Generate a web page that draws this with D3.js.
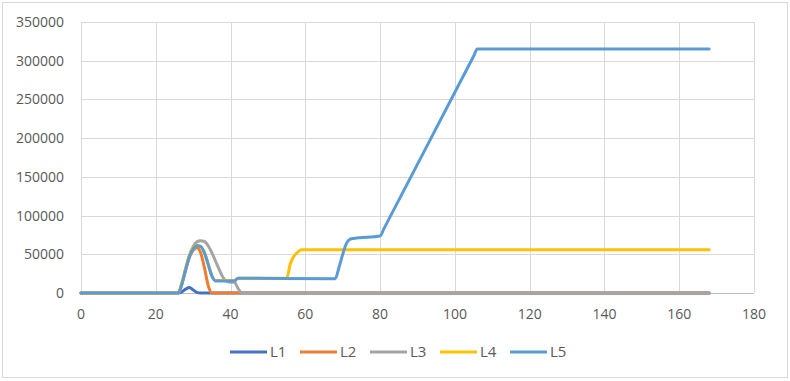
<!DOCTYPE html>
<html>
<head>
<meta charset="utf-8">
<script src="https://cdn.jsdelivr.net/npm/d3@7"></script>
<style>
  body { margin: 0; background: #fff; }
  text { font-family: "Open Sans", "DejaVu Sans", sans-serif; fill: #595959; }
</style>
</head>
<body>
<div id="vis"></div>
<script>
// frame constants
const FRAME_WIDTH = 790;
const FRAME_HEIGHT = 381;
const MARGINS = {left: 81, right: 36, top: 22, bottom: 88};
const VIS_WIDTH = FRAME_WIDTH - MARGINS.left - MARGINS.right;
const VIS_HEIGHT = FRAME_HEIGHT - MARGINS.top - MARGINS.bottom;

// data: [hour, value]
const SERIES_NAMES = ["L1", "L2", "L3", "L4", "L5"];
const COLORS = ["#4472C4", "#ED7D31", "#A5A5A5", "#FFC000", "#5B9BD5"];

const L1 = [[0, 0], [26, 0], [27, 1500], [28, 5000], [29, 7000], [30, 4000], [31, 800], [32, 0], [168, 0]];
const L2 = [[0, 0], [26, 0], [27, 12000], [28, 30000], [29, 46000], [30, 55000], [31, 58500],
            [32, 52000], [33, 33000], [34, 10000], [35, 0], [168, 0]];
const L3 = [[0, 0], [26, 0], [27, 12000], [28, 31000], [29, 48000], [30, 60000], [31, 66000],
            [32, 67500], [33, 66500], [34, 61000], [35, 52000], [36, 41000], [37, 30000],
            [38, 20000], [39, 15000], [40, 14000], [41, 14000], [42, 6000], [43, 0], [168, 0]];
const L4 = [[0, 0], [26, 0], [27, 13500], [28, 32000], [29, 49000], [30, 58500], [31, 61500],
            [32, 60500], [33, 52500], [34, 38000], [35, 22500], [36, 16000], [41, 16000],
            [42, 19200], [55, 18900], [56, 38000], [57, 48000], [58, 53000], [59, 56000], [168, 56000]];
const L5 = [[0, 0], [26, 0], [27, 12000], [28, 30000], [29, 47000], [30, 57000], [31, 61000],
            [32, 60000], [33, 52000], [34, 37000], [35, 22000], [36, 15500], [41, 15500],
            [42, 19000], [68, 18500], [69, 33000], [70, 50000], [71, 64000], [72, 69500],
            [73, 70500], [80, 73500], [81, 82800], [105, 305700], [106, 315000], [168, 315000]];
const ALL_SERIES = [L1, L2, L3, L4, L5];

const X_TICKS = [0, 20, 40, 60, 80, 100, 120, 140, 160, 180];
const Y_TICKS = [0, 50000, 100000, 150000, 200000, 250000, 300000, 350000];

const FRAME = d3.select("#vis")
                .append("svg")
                  .attr("width", FRAME_WIDTH)
                  .attr("height", FRAME_HEIGHT);

// chart border
FRAME.append("rect")
     .attr("x", 2.5).attr("y", 2.5)
     .attr("width", 785).attr("height", 375)
     .attr("fill", "none")
     .attr("stroke", "#D9D9D9");

const X_SCALE = d3.scaleLinear().domain([0, 180]).range([0, VIS_WIDTH]);
const Y_SCALE = d3.scaleLinear().domain([0, 350000]).range([VIS_HEIGHT, 0]);

const PLOT = FRAME.append("g")
                  .attr("transform", "translate(" + MARGINS.left + "," + MARGINS.top + ")");

// gridlines
PLOT.selectAll(".vgrid")
    .data(X_TICKS)
    .enter()
    .append("line")
      .attr("x1", (d) => { return Math.round(X_SCALE(d)) + 0.5; })
      .attr("x2", (d) => { return Math.round(X_SCALE(d)) + 0.5; })
      .attr("y1", 0)
      .attr("y2", VIS_HEIGHT)
      .attr("stroke", "#D9D9D9");

PLOT.selectAll(".hgrid")
    .data(Y_TICKS.slice(1))
    .enter()
    .append("line")
      .attr("x1", 0)
      .attr("x2", VIS_WIDTH)
      .attr("y1", (d) => { return Math.round(Y_SCALE(d)) + 0.5; })
      .attr("y2", (d) => { return Math.round(Y_SCALE(d)) + 0.5; })
      .attr("stroke", "#D9D9D9");

// x axis line at zero
PLOT.append("line")
    .attr("x1", 0).attr("x2", VIS_WIDTH)
    .attr("y1", VIS_HEIGHT + 0.5).attr("y2", VIS_HEIGHT + 0.5)
    .attr("stroke", "#BFBFBF");

// tick labels
PLOT.selectAll(".xlab")
    .data(X_TICKS)
    .enter()
    .append("text")
      .attr("x", (d) => { return X_SCALE(d); })
      .attr("y", VIS_HEIGHT + 26)
      .attr("text-anchor", "middle")
      .attr("font-size", "14px")
      .text((d) => { return d; });

PLOT.selectAll(".ylab")
    .data(Y_TICKS)
    .enter()
    .append("text")
      .attr("x", -17)
      .attr("y", (d) => { return Y_SCALE(d) + 5; })
      .attr("text-anchor", "end")
      .attr("font-size", "14px")
      .text((d) => { return d; });

// lines
const LINE = d3.line()
               .x((d) => { return X_SCALE(d[0]); })
               .y((d) => { return Y_SCALE(d[1]); })
               .curve(d3.curveMonotoneX);

PLOT.selectAll(".series")
    .data(ALL_SERIES)
    .enter()
    .append("path")
      .attr("d", (d) => { return LINE(d); })
      .attr("fill", "none")
      .attr("stroke", (d, i) => { return COLORS[i]; })
      .attr("stroke-width", 3)
      .attr("stroke-linejoin", "round")
      .attr("stroke-linecap", "round");

// legend
const LEGEND = FRAME.append("g")
                    .attr("transform", "translate(230,352)");

const ITEMS = LEGEND.selectAll(".item")
                    .data(SERIES_NAMES)
                    .enter()
                    .append("g")
                      .attr("transform", (d, i) => { return "translate(" + (i * 70) + ",0)"; });

ITEMS.append("line")
     .attr("x1", 0).attr("x2", 37)
     .attr("y1", 0).attr("y2", 0)
     .attr("stroke", (d, i) => { return COLORS[i]; })
     .attr("stroke-width", 3);

ITEMS.append("text")
     .attr("x", 40)
     .attr("y", 5)
     .attr("font-size", "15px")
     .text((d) => { return d; });
</script>
</body>
</html>
